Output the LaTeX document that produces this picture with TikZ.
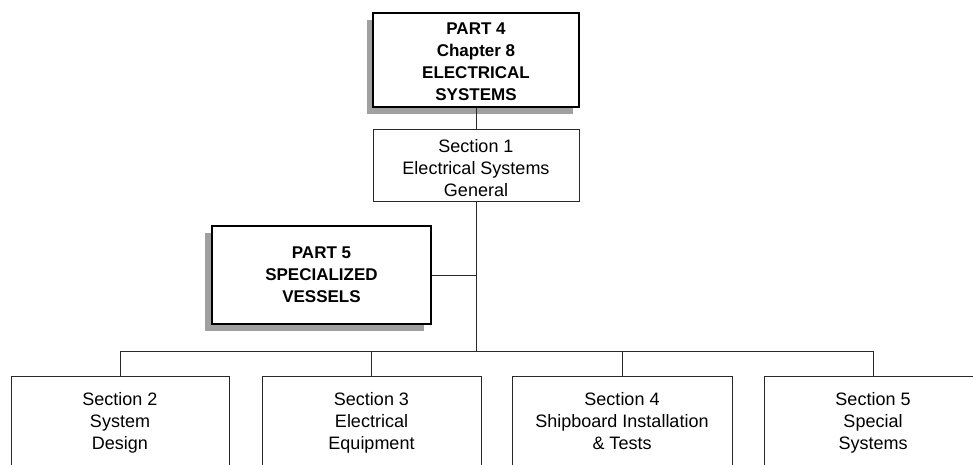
\documentclass[tikz,border=0pt]{standalone}
\usepackage{fontspec}
\setmainfont{Liberation Sans}
\definecolor{shadowgray}{RGB}{160,160,160}
\definecolor{linegray}{RGB}{40,40,40}
\begin{document}
\begin{tikzpicture}[x=1pt,y=-1pt,
  secbox/.style={draw=linegray,line width=0.8pt,fill=white,inner sep=0pt,align=center,
    font=\fontsize{18}{22}\selectfont},
  partbox/.style={draw=black,line width=2pt,fill=white,inner sep=0pt,align=center,
    font=\fontsize{17}{22}\selectfont\bfseries},
  conn/.style={draw=linegray,line width=0.8pt}]
\useasboundingbox (0,0) rectangle (973,464);
\clip (0,0) rectangle (973,464);
% shadows
\fill[shadowgray] (367,20) rectangle (573,114);
\fill[shadowgray] (205,233) rectangle (424,331);
% boxes
\node[partbox,minimum width=206,minimum height=94] (p4) at (476,60)
  {\rule{0pt}{15pt}PART 4\\Chapter 8\\ELECTRICAL\\SYSTEMS};
\node[secbox,minimum width=206,minimum height=72] (s1) at (476,165)
  {\rule{0pt}{19pt}Section 1\\Electrical Systems\\General};
\node[partbox,minimum width=219,minimum height=98] (p5) at (321.5,275)
  {PART 5\\SPECIALIZED\\VESSELS};
\node[secbox,minimum width=218,minimum height=94] (s2) at (120,423)
  {Section 2\\System\\Design};
\node[secbox,minimum width=219,minimum height=94] (s3) at (371.5,423)
  {Section 3\\Electrical\\Equipment};
\node[secbox,minimum width=220,minimum height=94] (s4) at (622,423)
  {Section 4\\Shipboard Installation\\\& Tests\vphantom{p}};
\node[secbox,minimum width=218,minimum height=94] (s5) at (873,423)
  {Section 5\\Special\\Systems};
% connectors
\coordinate (bus) at (476,351);
\coordinate (tee) at (476,275);
\draw[conn] (p4.south) -- (s1.north);
\draw[conn] (s1.south) -- (bus);
\draw[conn] (p5.east) -- (tee);
\draw[conn] (s2.north) |- (bus);
\draw[conn] (s5.north) |- (bus);
\draw[conn] (s3.north) -- (s3.north |- bus);
\draw[conn] (s4.north) -- (s4.north |- bus);
\end{tikzpicture}
\end{document}
